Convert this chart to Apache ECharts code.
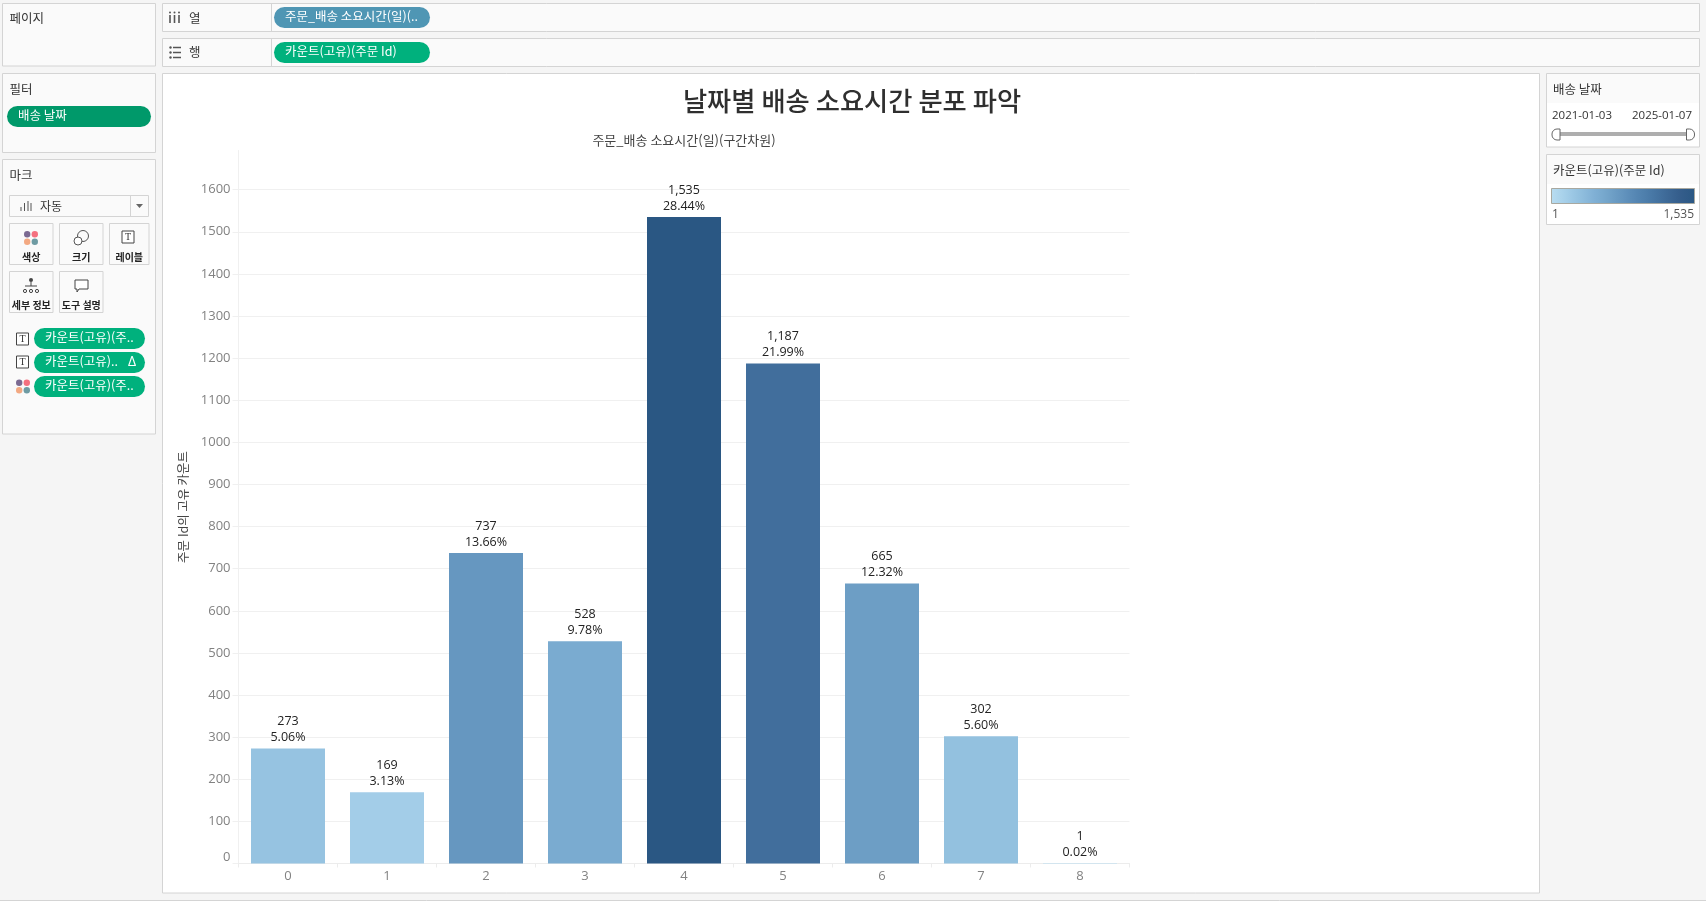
<!DOCTYPE html>
<html lang="ko"><head><meta charset="utf-8"><title>날짜별 배송 소요시간 분포 파악</title>
<style>html,body{margin:0;padding:0;background:#f5f5f5}#c{width:1706px;height:901px}</style>
<script src="https://cdn.jsdelivr.net/npm/echarts@6/dist/echarts.min.js"></script></head>
<body><div id="c"></div><script>
const categories = ['0','1','2','3','4','5','6','7','8'];
const counts = [273,169,737,528,1535,1187,665,302,1];
const percents = ['5.06%','3.13%','13.66%','9.78%','28.44%','21.99%','12.32%','5.60%','0.02%'];
const countLabels = ['273','169','737','528','1,535','1,187','665','302','1'];
const ramp = ['#b9ddf1','#afd6ed','#a5cfe9','#9bc7e4','#92c0df','#89b8da','#80b0d5','#79aacf','#72a3c9','#6a9bc3','#6394be','#5b8cb8','#5485b2','#4e7fac','#4878a6','#43719f','#3e6a98','#396391','#345d8b','#2f5a87','#2a5783'];
const FONT = '"Open Sans","Noto Sans CJK KR",sans-serif';
const KR = '"Noto Sans CJK KR","Open Sans",sans-serif';

const g = [];
function box(x,y,w,h,fill,stroke,z){g.push({type:'rect',z:z===undefined?1:z,shape:{x,y,width:w,height:h},style:{fill:fill||'#fafafa',stroke:stroke||'#d4d4d4',lineWidth:1}});}
function txt(x,y,t,o){o=o||{};g.push({type:'text',z:o.z||5,x,y,style:{text:t,fill:o.fill||'#333',font:(o.weight||'')+' '+(o.size||12.5)+'px '+(o.font||KR),textAlign:o.align||'left',textVerticalAlign:'middle'}});}
function pill(x,y,w,h,c,t){g.push({type:'rect',z:3,shape:{x,y,width:w,height:h,r:h/2},style:{fill:c}});txt(x+11,y+h/2-1,t,{fill:'#fff',size:12.5});}
function line(x1,y1,x2,y2,c,w){g.push({type:'line',z:4,shape:{x1,y1,x2,y2},style:{stroke:c||'#555',lineWidth:w||1}});}
function dot(x,y,r,c){g.push({type:'circle',z:4,shape:{cx:x,cy:y,r},style:{fill:c}});}
function dots(x,y){dot(x-3.8,y-3.8,3.2,'#7b6a92');dot(x+3.8,y-3.8,3.2,'#f4707f');dot(x-3.8,y+3.8,3.2,'#f3a982');dot(x+3.8,y+3.8,3.2,'#6e9ba3');}
function tbox(x,y,s){g.push({type:'rect',z:4,shape:{x:x-s/2,y:y-s/2,width:s,height:s},style:{fill:'#fff',stroke:'#444',lineWidth:1}});txt(x,y,'T',{align:'center',size:s-2,font:'"Liberation Serif",serif',fill:'#333'});}

// 바깥 선반
box(2.5,3.5,153,62.5);
txt(9.5,18.5,'페이지',{size:12.5});
box(162.5,3.5,1537,28); line(271.5,4,271.5,31,'#d4d4d4');
box(162.5,38.5,1537,28); line(271.5,39,271.5,66,'#d4d4d4');
[170,174.5,179].forEach(x=>{line(x,15,x,23,'#555',1.6);dot(x,12.5,1,'#555');});
for(let i=0;i<3;i++){dot(170.5,47.5+i*5,1.2,'#555');line(173,47.5+i*5,181,47.5+i*5,'#555',1.5);}
txt(189,18.5,'열'); txt(189,52.5,'행');
pill(274,7,156,21,'#4f96b4','주문_배송 소요시간(일)(..');
pill(274,42,156,21,'#00b17d','카운트(고유)(주문 Id)');
// 필터
box(2.5,73.5,153,79);
txt(9.5,89,'필터');
pill(7,106,144,21,'#00996a','배송 날짜');
// 마크
box(2.5,159.5,153,274.5);
txt(9.5,175,'마크');
box(9.5,195.5,139,21,'#fafafa'); line(130.5,196,130.5,216,'#d4d4d4');
g.push({type:'polygon',z:4,shape:{points:[[136,204],[143,204],[139.5,208]]},style:{fill:'#666'}});
[[21,4],[24.5,8],[28,10],[31,8]].forEach(a=>line(a[0],211,a[0],211-a[1],'#555',1));
txt(40,206,'자동',{size:12});
[[9.5,43.5,'색상'],[59.5,43.5,'크기'],[109.5,39.5,'레이블']].forEach(b=>{box(b[0],223.5,b[1],41);txt(b[0]+b[1]/2,257,b[2],{align:'center',size:10,fill:'#222',weight:'bold'});});
[[9.5,43.5,'세부 정보'],[59.5,43.5,'도구 설명']].forEach(b=>{box(b[0],271.5,b[1],41);txt(b[0]+b[1]/2,305,b[2],{align:'center',size:10,fill:'#222',weight:'bold'});});
dots(31,238);
g.push({type:'circle',z:4,shape:{cx:83,cy:236,r:5.5},style:{fill:'none',stroke:'#555'}});
g.push({type:'circle',z:4,shape:{cx:78,cy:241,r:4},style:{fill:'#fff',stroke:'#555'}});
tbox(128,237,12);
dot(31,280,2,'#444');line(31,282,31,286,'#444');line(25,286,37,286,'#444');
[25,31,37].forEach(x=>g.push({type:'circle',z:4,shape:{cx:x,cy:291,r:1.6},style:{fill:'none',stroke:'#444'}}));
g.push({type:'polygon',z:4,shape:{points:[[75,280],[88,280],[88,289],[79,289],[77,292],[77,289],[75,289]]},style:{fill:'#fff',stroke:'#444'}});
tbox(22.5,339,12); tbox(22.5,362,12); dots(23,386.5);
pill(34,328,111,21,'#00b17d','카운트(고유)(주..');
pill(34,352,111,21,'#00b17d','카운트(고유)..');
txt(128,362,'Δ',{fill:'#fff',size:14,font:FONT,z:6});
pill(34,376,111,21,'#00b17d','카운트(고유)(주..');
// 차트 패널
box(162.5,73.5,1377,819.5,'#fff','#d4d4d4',-1);
// 오른쪽 카드
box(1546.5,73.5,153,73.5,'#fff');
g.push({type:'rect',z:2,shape:{x:1547,y:74,width:152,height:29},style:{fill:'#fafafa'}});
txt(1553,89,'배송 날짜');
txt(1552,116,'2021-01-03',{font:FONT,size:11.5});
txt(1692,116,'2025-01-07',{font:FONT,size:11.5,align:'right'});
g.push({type:'rect',z:3,shape:{x:1558,y:132,width:130,height:4},style:{fill:'#aeaeae'}});
g.push({type:'rect',z:4,shape:{x:1552,y:129,width:8,height:11,r:[5,0,0,5]},style:{fill:'#fff',stroke:'#666'}});
g.push({type:'rect',z:4,shape:{x:1686.5,y:129,width:8,height:11,r:[0,5,5,0]},style:{fill:'#fff',stroke:'#666'}});
box(1546.5,154.5,153,70,'#fff');
g.push({type:'rect',z:2,shape:{x:1547,y:155,width:152,height:29},style:{fill:'#fafafa'}});
txt(1553,170,'카운트(고유)(주문 Id)');
g.push({type:'rect',z:3,shape:{x:1551.5,y:188.5,width:143,height:15},style:{stroke:'#a8a8a0',lineWidth:1,fill:new echarts.graphic.LinearGradient(0,0,1,0,ramp.map((c,i)=>({offset:i/(ramp.length-1),color:c})))}});
txt(1552,215,'1',{font:FONT,size:12,fill:'#555'});
txt(1694,215,'1,535',{font:FONT,size:12,fill:'#555',align:'right'});
line(0,900.5,1706,900.5,'#d4d4d4');

const chart = echarts.init(document.getElementById('c'),null,{renderer:'canvas'});
chart.setOption({
  animation:false,
  backgroundColor:'#f5f5f5',
  textStyle:{fontFamily:FONT},
  title:{text:'날짜별 배송 소요시간 분포 파악',left:847,top:83,textAlign:'center',
    textStyle:{fontFamily:KR,fontSize:26.3,fontWeight:500,color:'#2f2f2f'}},
  grid:{left:238.5,top:150.5,width:891,height:713,containLabel:false},
  visualMap:{show:false,min:1,max:1535,seriesIndex:0,inRange:{color:ramp}},
  xAxis:[
    {type:'category',data:categories,position:'bottom',
      axisLine:{lineStyle:{color:'#ececec'}},
      axisTick:{show:true,length:4,alignWithLabel:false,lineStyle:{color:'#ececec'}},
      axisLabel:{color:'#828282',fontSize:13,margin:6,fontFamily:FONT},splitLine:{show:false}},
    {type:'category',data:categories,position:'top',
      name:'주문_배송 소요시간(일)(구간차원)',nameLocation:'middle',nameGap:4,
      nameTextStyle:{color:'#444',fontSize:13,fontFamily:KR},
      axisLine:{show:false},axisTick:{show:false},axisLabel:{show:false}}
  ],
  yAxis:{type:'value',min:0,max:1693,interval:100,
    name:'주문 Id의 고유 카운트',nameLocation:'middle',nameGap:39,nameRotate:90,
    nameTextStyle:{color:'#444',fontSize:12.5,fontFamily:KR},
    axisLine:{show:true,lineStyle:{color:'#f0f0f0'}},
    axisTick:{show:true,length:6,lineStyle:{color:'#f0f0f0'}},
    axisLabel:{color:'#828282',fontSize:13,margin:8,fontFamily:FONT,showMaxLabel:false,verticalAlignMinLabel:'bottom',formatter:v=>String(v)},
    splitLine:{show:true,showMaxLine:false,lineStyle:{color:'#f0f0f0'}}},
  series:[{type:'bar',data:counts,barWidth:74,xAxisIndex:0,
    label:{show:true,position:'top',distance:3,color:'#222',fontSize:12.5,lineHeight:16,fontFamily:FONT,
      formatter:p=>countLabels[p.dataIndex]+'\n'+percents[p.dataIndex]}}],
  graphic:{elements:g.map(e=>{e.silent=true;return e;})}
});
</script></body></html>
